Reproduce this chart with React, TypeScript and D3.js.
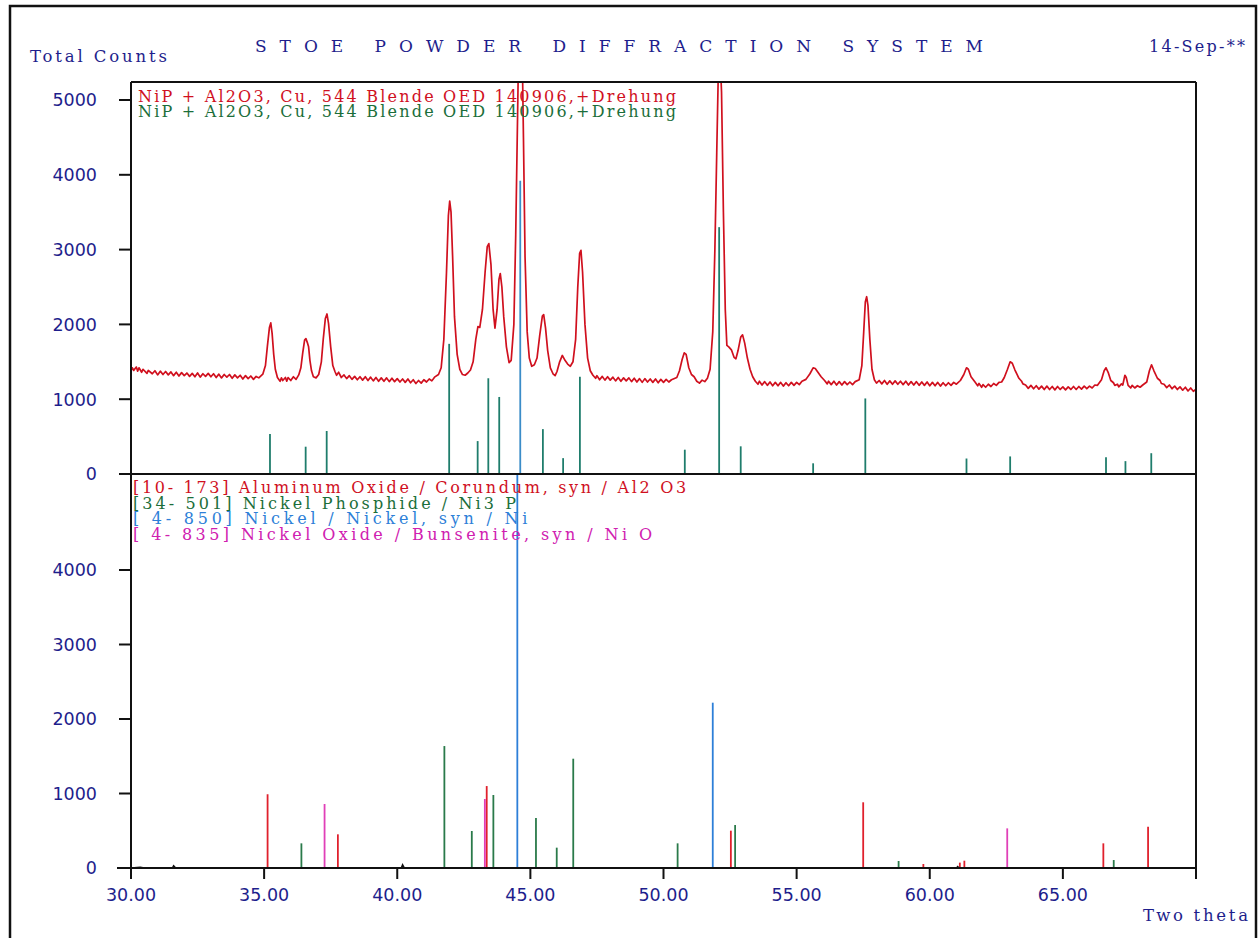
import React from "react";
import * as d3 from "d3";

// frame / plot geometry
const WIDTH = 1259;
const HEIGHT = 938;
const LEFT = 131;
const RIGHT = 1196;
const UP_TOP = 82;
const UP_BASE = 474;
const LOW_BASE = 868;

const NAVY = "#1e1e8c";
const RED = "#d0101e";
const GREEN = "#1b6e3a";
const BLUE = "#2d7fd8";
const MAGENTA = "#d020b0";

const xTicks = [30, 35, 40, 45, 50, 55, 60, 65, 70];
const upperYTicks = [0, 1000, 2000, 3000, 4000, 5000];
const lowerYTicks = [0, 1000, 2000, 3000, 4000];

const title = "S T O E   P O W D E R   D I F F R A C T I O N   S Y S T E M";
const sampleName = "NiP + Al2O3, Cu, 544 Blende OED 140906,+Drehung";
const phaseNames = [
  "[10- 173] Aluminum Oxide / Corundum, syn / Al2 O3",
  "[34- 501] Nickel Phosphide / Ni3 P",
  "[ 4- 850] Nickel / Nickel, syn / Ni",
  "[ 4- 835] Nickel Oxide / Bunsenite, syn / Ni O",
];

// measured pattern, [2theta, counts]
const measured: [number, number][] = [
  [30.0, 1380], [30.05, 1420], [30.1, 1385], [30.2, 1430], [30.25, 1375], [30.3, 1420], [30.4, 1360], [30.45, 1400],
  [30.6, 1345], [30.65, 1385], [30.8, 1340], [30.9, 1380], [31.0, 1325], [31.1, 1375], [31.2, 1330],
  [31.3, 1370], [31.4, 1325], [31.5, 1365], [31.6, 1315], [31.7, 1360], [31.8, 1310], [31.9, 1355], [32.0, 1315],
  [32.1, 1350], [32.2, 1305], [32.3, 1345], [32.4, 1300], [32.5, 1350], [32.6, 1295], [32.7, 1340], [32.8, 1305],
  [32.9, 1345], [33.0, 1300], [33.1, 1340], [33.2, 1290], [33.3, 1335], [33.4, 1285], [33.5, 1330], [33.6, 1295],
  [33.7, 1330], [33.8, 1280], [33.9, 1325], [34.0, 1285], [34.1, 1320], [34.2, 1270], [34.3, 1315], [34.4, 1275],
  [34.5, 1310], [34.6, 1265], [34.7, 1305], [34.8, 1285], [34.95, 1335], [35.05, 1450], [35.12, 1700],
  [35.2, 1960], [35.25, 2020], [35.3, 1880], [35.36, 1600], [35.42, 1400], [35.5, 1290],
  [35.6, 1240], [35.65, 1285], [35.7, 1250], [35.8, 1290], [35.85, 1240], [35.9, 1290], [36.0, 1250], [36.1, 1300],
  [36.2, 1265], [36.3, 1325], [36.38, 1420], [36.45, 1620], [36.52, 1790], [36.57, 1810],
  [36.62, 1760], [36.67, 1700], [36.72, 1520], [36.78, 1380], [36.85, 1300], [36.95, 1285],
  [37.05, 1330], [37.15, 1500], [37.22, 1800], [37.3, 2080], [37.36, 2140], [37.42, 2010],
  [37.5, 1700], [37.58, 1450], [37.66, 1370], [37.72, 1320], [37.8, 1360], [37.9, 1290],
  [38.0, 1325], [38.1, 1275], [38.2, 1315], [38.3, 1265], [38.4, 1305], [38.5, 1260], [38.6, 1300],
  [38.7, 1255], [38.8, 1300], [38.9, 1250], [39.0, 1295], [39.1, 1245], [39.2, 1290], [39.3, 1240], [39.4, 1285],
  [39.5, 1240], [39.6, 1285], [39.7, 1235], [39.8, 1280], [39.9, 1235], [40.0, 1275], [40.1, 1230], [40.2, 1270],
  [40.3, 1225], [40.4, 1270], [40.5, 1220], [40.6, 1260], [40.7, 1210], [40.8, 1250], [40.9, 1215], [41.0, 1260],
  [41.1, 1230], [41.2, 1270], [41.3, 1245], [41.4, 1295], [41.55, 1330], [41.65, 1420], [41.75, 1800],
  [41.85, 2700], [41.92, 3450], [41.97, 3650], [42.02, 3500], [42.08, 2900], [42.15, 2100],
  [42.25, 1600], [42.35, 1400], [42.45, 1330], [42.55, 1320], [42.65, 1350], [42.75, 1390],
  [42.85, 1500], [42.95, 1800], [43.03, 1970], [43.1, 1960], [43.2, 2200], [43.3, 2700],
  [43.38, 3040], [43.44, 3080], [43.52, 2800], [43.6, 2200], [43.67, 1950], [43.75, 2200],
  [43.82, 2600], [43.87, 2680], [43.93, 2500], [44.0, 2100], [44.1, 1700], [44.2, 1490],
  [44.28, 1520], [44.38, 2000], [44.45, 3200], [44.52, 4800], [44.58, 6200], [44.63, 6500],
  [44.68, 6000], [44.74, 4500], [44.8, 2900], [44.88, 1900], [44.96, 1550], [45.05, 1440],
  [45.15, 1460], [45.25, 1550], [45.35, 1850], [45.45, 2110], [45.5, 2130], [45.57, 1950],
  [45.65, 1650], [45.75, 1420], [45.85, 1340], [45.93, 1315], [46.0, 1370], [46.1, 1500],
  [46.2, 1585], [46.3, 1520], [46.4, 1470], [46.5, 1440], [46.6, 1500], [46.7, 1800],
  [46.78, 2500], [46.85, 2950], [46.9, 2990], [46.96, 2700], [47.05, 2000], [47.15, 1550],
  [47.25, 1380], [47.35, 1320], [47.45, 1280], [47.5, 1315], [47.6, 1260], [47.7, 1305], [47.8, 1255], [47.9, 1300],
  [48.0, 1255], [48.1, 1295], [48.2, 1245], [48.3, 1290], [48.4, 1240], [48.5, 1285], [48.6, 1245], [48.7, 1285],
  [48.8, 1235], [48.9, 1280], [49.0, 1230], [49.1, 1275], [49.2, 1225], [49.3, 1275], [49.4, 1230], [49.5, 1270],
  [49.6, 1225], [49.7, 1270], [49.8, 1220], [49.9, 1265], [50.0, 1225], [50.1, 1265], [50.2, 1230], [50.3, 1260],
  [50.5, 1290], [50.6, 1380], [50.7, 1530], [50.78, 1620], [50.85, 1600], [50.95, 1420],
  [51.05, 1330], [51.15, 1300], [51.25, 1240], [51.35, 1215], [51.45, 1255], [51.55, 1235],
  [51.65, 1280], [51.75, 1400], [51.85, 1900], [51.93, 3000], [52.0, 4300], [52.06, 5400],
  [52.12, 5650], [52.18, 5100], [52.25, 3500], [52.32, 2200], [52.38, 1720], [52.45, 1700],
  [52.55, 1660], [52.65, 1560], [52.72, 1540], [52.8, 1650], [52.9, 1830], [52.97, 1860],
  [53.05, 1750], [53.15, 1550], [53.25, 1400], [53.35, 1300], [53.45, 1240], [53.55, 1200], [53.6, 1240],
  [53.7, 1190], [53.8, 1235], [53.9, 1185], [54.0, 1230], [54.1, 1180], [54.2, 1225], [54.3, 1180], [54.4, 1225],
  [54.5, 1175], [54.6, 1220], [54.7, 1180], [54.8, 1225], [54.9, 1185], [55.0, 1225], [55.1, 1195], [55.2, 1240],
  [55.35, 1265], [55.5, 1340], [55.62, 1420], [55.7, 1410], [55.8, 1360], [55.92, 1300],
  [56.05, 1250], [56.15, 1205], [56.2, 1240], [56.3, 1195], [56.4, 1240], [56.5, 1190], [56.6, 1235], [56.7, 1190],
  [56.8, 1235], [56.9, 1195], [57.0, 1230], [57.1, 1195], [57.2, 1235], [57.35, 1260], [57.45, 1450],
  [57.52, 1900], [57.58, 2300], [57.63, 2370], [57.68, 2250], [57.75, 1800], [57.83, 1400],
  [57.92, 1260], [58.0, 1215], [58.1, 1250], [58.2, 1205], [58.3, 1250], [58.4, 1200], [58.5, 1245], [58.6, 1200],
  [58.7, 1245], [58.8, 1200], [58.9, 1240], [59.0, 1195], [59.1, 1240], [59.2, 1190], [59.3, 1235], [59.4, 1190],
  [59.5, 1235], [59.6, 1185], [59.7, 1230], [59.8, 1185], [59.9, 1230], [60.0, 1180], [60.1, 1225], [60.2, 1180],
  [60.3, 1225], [60.4, 1175], [60.5, 1220], [60.6, 1180], [60.7, 1220], [60.8, 1185], [60.9, 1225], [61.0, 1200],
  [61.15, 1250], [61.28, 1330], [61.38, 1420], [61.45, 1400], [61.55, 1300], [61.7, 1230],
  [61.8, 1180], [61.85, 1210], [61.95, 1160], [62.0, 1195], [62.1, 1160], [62.2, 1200], [62.3, 1170], [62.4, 1210],
  [62.5, 1185], [62.6, 1225], [62.7, 1230], [62.8, 1290], [62.92, 1400], [63.02, 1500], [63.1, 1480],
  [63.2, 1390], [63.35, 1280], [63.45, 1240], [63.5, 1205], [63.6, 1190], [63.7, 1145], [63.8, 1185],
  [63.9, 1140], [64.0, 1180], [64.1, 1135], [64.2, 1175], [64.3, 1130], [64.4, 1175], [64.5, 1130], [64.6, 1170],
  [64.7, 1125], [64.8, 1170], [64.9, 1130], [65.0, 1165], [65.1, 1125], [65.2, 1165], [65.3, 1130], [65.4, 1170],
  [65.5, 1130], [65.6, 1170], [65.7, 1135], [65.8, 1175], [65.9, 1140], [66.0, 1175], [66.1, 1150],
  [66.2, 1190], [66.3, 1185], [66.45, 1260], [66.55, 1380], [66.62, 1420], [66.7, 1360], [66.8, 1250],
  [66.9, 1220], [66.95, 1185], [67.05, 1200], [67.1, 1165], [67.2, 1205], [67.25, 1190],
  [67.33, 1320], [67.38, 1290], [67.45, 1185], [67.55, 1150], [67.6, 1185], [67.7, 1150], [67.8, 1180],
  [67.9, 1160], [68.0, 1190], [68.15, 1230], [68.25, 1380], [68.33, 1460], [68.42, 1380], [68.55, 1280],
  [68.65, 1250], [68.7, 1210], [68.8, 1200], [68.9, 1155], [69.0, 1190], [69.1, 1140], [69.2, 1175],
  [69.3, 1130], [69.4, 1165], [69.5, 1120], [69.6, 1160], [69.7, 1110], [69.8, 1150], [69.9, 1105], [70.0, 1135],
];

// peak sticks of the upper panel
const peakTheta = [35.22, 36.56, 37.35, 41.95, 43.02, 43.42, 43.83, 44.62, 45.47, 46.23, 46.86,
  50.8, 52.09, 52.9, 55.62, 57.58, 61.38, 63.02, 66.62, 67.35, 68.32];
const peakCounts = [535, 365, 575, 1740, 440, 1280, 1030, 3920, 600, 212, 1300,
  325, 3300, 370, 143, 1010, 207, 235, 225, 172, 278];
const peakIsNi = [false, false, false, false, false, false, false, true, false, false, false,
  false, false, false, false, false, false, false, false, false, false];

// reference patterns of the lower panel
const aluminaTheta = [35.13, 37.77, 43.36, 52.53, 57.5, 59.76, 61.13, 61.3, 66.52, 68.2];
const aluminaInt = [990, 452, 1100, 501, 882, 54, 72, 98, 331, 555];
const ni3pTheta = [36.4, 41.77, 42.8, 43.61, 45.21, 45.99, 46.61, 50.53, 52.69, 58.83, 66.91];
const ni3pInt = [331, 1637, 497, 980, 671, 273, 1467, 331, 577, 94, 107];
const niTheta = [44.51, 51.85];
const niInt = [5400, 2219];
const nioTheta = [37.27, 43.29, 62.91];
const nioInt = [859, 926, 532];

// small wiggles on the lower zero line
const residual: [number, number][] = [
  [30, 0], [30.35, 12], [30.5, 0], [31.55, 0], [31.6, 30], [31.68, 0], [40.15, 0],
  [40.2, 45], [40.27, 0], [61.0, 0], [61.05, 20], [61.1, 0], [70, 0],
];

export default function App() {
  const x = d3.scaleLinear().domain([30, 70]).range([LEFT, RIGHT]);
  const yUp = d3.scaleLinear().domain([0, 5000]).range([UP_BASE, 100]);
  const yLow = d3.scaleLinear().domain([0, 4000]).range([LOW_BASE, 570]);

  const line = d3.line<[number, number]>().x((d) => x(d[0])).y((d) => yUp(d[1]));
  const resLine = d3.line<[number, number]>().x((d) => x(d[0])).y((d) => yLow(d[1]));

  const phases = [
    { theta: aluminaTheta, val: aluminaInt, color: "#e0202c" },
    { theta: ni3pTheta, val: ni3pInt, color: "#2a7a4a" },
    { theta: niTheta, val: niInt, color: BLUE },
    { theta: nioTheta, val: nioInt, color: "#e040b8" },
  ];
  const legendColors = [RED, GREEN, BLUE, MAGENTA];

  const serif = "'DejaVu Serif', serif";
  const sans = "'DejaVu Sans', sans-serif";
  const pre = { whiteSpace: "pre" } as React.CSSProperties;

  return (
    <div style={{ position: "absolute", left: 0, top: 0, background: "#fff" }}>
      <svg width={WIDTH} height={HEIGHT} style={{ display: "block" }}>
        <defs>
          <clipPath id="clipUp">
            <rect x={LEFT} y={UP_TOP} width={RIGHT - LEFT} height={UP_BASE - UP_TOP} />
          </clipPath>
          <clipPath id="clipLow">
            <rect x={LEFT} y={UP_BASE} width={RIGHT - LEFT} height={LOW_BASE - UP_BASE} />
          </clipPath>
        </defs>
        <rect x={0} y={0} width={WIDTH} height={HEIGHT} fill="#fff" />
        {/* outer frame */}
        <rect x={10} y={6} width={1246} height={960} fill="none" stroke="#111" strokeWidth={2.5} />

        {/* header */}
        <text x={30} y={62} fill={NAVY} fontFamily={serif} fontSize={16.5}
          textLength={137} lengthAdjust="spacing">Total Counts</text>
        <text x={255} y={52} fill={NAVY} fontFamily={serif} fontSize={17} style={pre}
          textLength={728} lengthAdjust="spacing">{title}</text>
        <text x={1149} y={52} fill={NAVY} fontFamily={serif} fontSize={16}
          textLength={96} lengthAdjust="spacing">14-Sep-**</text>

        {/* upper panel sticks */}
        <g clipPath="url(#clipUp)">
          {peakTheta.map((t, i) => (
            <line key={"p" + i} x1={x(t)} x2={x(t)} y1={UP_BASE} y2={yUp(peakCounts[i])}
              stroke={peakIsNi[i] ? "#3a8cc8" : "#1f7d6c"} strokeWidth={1.8} />
          ))}
          <path d={line(measured) || ""} fill="none" stroke={RED} strokeWidth={1.7}
            strokeLinejoin="round" />
        </g>

        {/* lower panel sticks */}
        <g clipPath="url(#clipLow)">
          {phases.map((p, k) =>
            p.theta.map((t, i) => (
              <line key={k + "-" + i} x1={x(t)} x2={x(t)} y1={LOW_BASE} y2={yLow(p.val[i])}
                stroke={p.color} strokeWidth={1.8} />
            ))
          )}
        </g>

        {/* legends */}
        {[RED, GREEN].map((c, i) => (
          <text key={"s" + i} x={138} y={102 + i * 15} fill={c} fontFamily={serif} fontSize={16}
            style={pre} textLength={538} lengthAdjust="spacing">{sampleName}</text>
        ))}
        {phaseNames.map((n, i) => (
          <text key={"n" + i} x={133} y={493 + i * 15.7} fill={legendColors[i]} fontFamily={serif}
            fontSize={16} style={pre} textLength={n.length * 11.35 - 3}
            lengthAdjust="spacing">{n}</text>
        ))}

        {/* frame of the plot */}
        <g stroke="#111" fill="none">
          <line x1={LEFT} x2={RIGHT} y1={UP_TOP} y2={UP_TOP} strokeWidth={2} />
          <line x1={LEFT} x2={LEFT} y1={UP_TOP} y2={LOW_BASE} strokeWidth={2} />
          <line x1={RIGHT} x2={RIGHT} y1={UP_TOP} y2={LOW_BASE} strokeWidth={2} />
          <line x1={LEFT} x2={RIGHT} y1={UP_BASE} y2={UP_BASE} strokeWidth={2.2} />
          <line x1={117} x2={RIGHT} y1={LOW_BASE} y2={LOW_BASE} strokeWidth={2.2} />
          <path d={resLine(residual) || ""} strokeWidth={1.4} />
          {upperYTicks.map((v) => (
            <line key={"ut" + v} x1={119} x2={LEFT} y1={yUp(v)} y2={yUp(v)} strokeWidth={2} />
          ))}
          {lowerYTicks.map((v) => (
            <line key={"lt" + v} x1={119} x2={LEFT} y1={yLow(v)} y2={yLow(v)} strokeWidth={2} />
          ))}
          {xTicks.map((v) => (
            <line key={"xt" + v} x1={x(v)} x2={x(v)} y1={LOW_BASE} y2={LOW_BASE + 11} strokeWidth={2} />
          ))}
        </g>

        {/* tick labels */}
        <g fill={NAVY} fontFamily={sans} fontSize={17.5}>
          {upperYTicks.map((v) => (
            <text key={"ul" + v} x={97} y={yUp(v)} dy="0.36em" textAnchor="end">{v}</text>
          ))}
          {lowerYTicks.map((v) => (
            <text key={"ll" + v} x={97} y={yLow(v)} dy="0.36em" textAnchor="end">{v}</text>
          ))}
          {xTicks.filter((v) => v < 70).map((v) => (
            <text key={"xl" + v} x={x(v)} y={901} textAnchor="middle">{v.toFixed(2)}</text>
          ))}
        </g>
        <text x={1143} y={921} fill={NAVY} fontFamily={serif} fontSize={16.5}
          textLength={105} lengthAdjust="spacing">Two theta</text>
      </svg>
    </div>
  );
}
